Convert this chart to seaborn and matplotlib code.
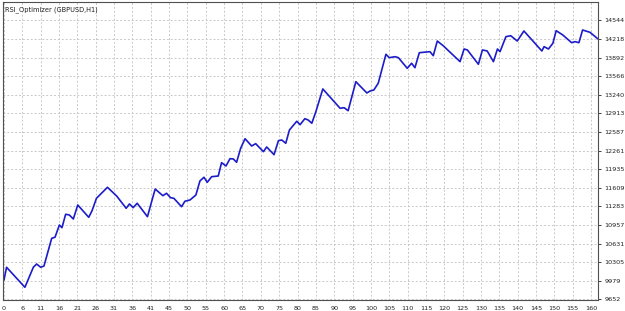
import pandas as pd
import seaborn as sns
import matplotlib.pyplot as plt

# balance curve vertices (trade number, balance)
trade = [0, 0.7, 5.7, 8.0, 8.9, 10.0, 10.9, 13.0, 13.9, 15.1, 15.8, 16.8, 17.8, 18.9,
         20.1, 23.1, 24.0, 25.2, 28.2, 30.7, 33.3, 34.2, 35.2, 36.3, 39.1, 41.2, 43.3,
         44.3, 45.4, 46.3, 48.4, 49.3, 50.7, 52.3, 53.4, 54.5, 55.4, 56.6, 58.4, 59.3,
         60.5, 61.6, 62.5, 63.4, 64.5, 65.7, 67.5, 68.6, 70.7, 71.6, 73.6, 74.8, 75.7,
         76.8, 77.8, 79.8, 80.7, 82.0, 82.9, 83.9, 85.0, 86.9, 91.6, 92.7, 93.8, 95.9,
         98.9, 99.8, 100.8, 102.0, 104.1, 105.0, 106.6, 107.5, 109.9, 111.1, 112.0,
         113.2, 116.1, 117.0, 118.1, 119.7, 124.3, 125.4, 126.3, 129.3, 130.4, 131.7,
         133.4, 134.5, 135.2, 136.8, 138.1, 139.9, 141.7, 146.6, 147.2, 148.4, 149.6,
         150.5, 152.3, 154.7, 155.6, 156.7, 157.7, 159.7, 161.9]
balance = [9994, 10217, 9866, 10217, 10274, 10217, 10239, 10725, 10743, 10958, 10911,
           11146, 11134, 11063, 11309, 11093, 11209, 11426, 11619, 11467, 11251, 11327,
           11262, 11339, 11104, 11589, 11472, 11514, 11437, 11426, 11279, 11374, 11397,
           11484, 11730, 11795, 11707, 11805, 11817, 12051, 11993, 12121, 12116, 12058,
           12303, 12471, 12343, 12384, 12244, 12326, 12191, 12436, 12449, 12391, 12624,
           12777, 12717, 12822, 12799, 12742, 12945, 13343, 13005, 13015, 12962, 13471,
           13273, 13308, 13325, 13443, 13951, 13892, 13909, 13892, 13706, 13794, 13716,
           13979, 13997, 13927, 14184, 14102, 13822, 14044, 14027, 13776, 14027, 14009,
           13822, 14044, 13997, 14260, 14277, 14184, 14360, 14009, 14085, 14044, 14144,
           14365, 14290, 14155, 14173, 14155, 14377, 14337, 14220]

x_labels = ['0', '6', '11', '16', '21', '26', '31', '36', '41', '45', '50', '55', '60',
            '65', '70', '75', '80', '85', '90', '95', '100', '105', '110', '115', '120',
            '125', '130', '135', '140', '145', '150', '155', '160']
y_labels = ['9652', '9979', '10305', '10631', '10957', '11283', '11609', '11935',
            '12261', '12587', '12913', '13240', '13566', '13892', '14218', '14544']

df = pd.DataFrame({'trade': trade, 'balance': balance})

sns.set_theme(style="white")
plt.rcParams['font.family'] = ['DejaVu Sans']

fig = plt.figure(figsize=(6.25, 3.11), dpi=100)
ax = fig.add_axes([3 / 625, 11 / 311, 595 / 625, 298 / 311])

sns.lineplot(x='trade', y='balance', data=df, color='#1c1cc8', linewidth=1.2, ax=ax)

ax.set_xlim(-0.27, 161.9)
ax.set_ylim(9643, 14868)

ax.set_xticks([5 * i for i in range(len(x_labels))])
ax.set_xticklabels(x_labels)
y_pos = [9652 + (14544 - 9652) / 15 * i for i in range(len(y_labels))]
ax.set_yticks(y_pos)
ax.set_yticklabels(y_labels)
ax.yaxis.tick_right()

ax.tick_params(axis='both', labelsize=4.6, colors='#202020', length=2.5, width=0.6,
               pad=1.5, direction='out')
ax.tick_params(axis='y', pad=2)

ax.grid(True, color='#c8c8c8', linestyle=(0, (2, 2)), linewidth=0.7)
for s in ax.spines.values():
    s.set_color('#505050')
    s.set_linewidth(0.8)

ax.set_xlabel('')
ax.set_ylabel('')
ax.text(0.004, 0.985, 'RSI_Optimizer (GBPUSD,H1)', transform=ax.transAxes,
        fontsize=4.8, color='#202020', ha='left', va='top')

plt.savefig('out.png', dpi=100)
